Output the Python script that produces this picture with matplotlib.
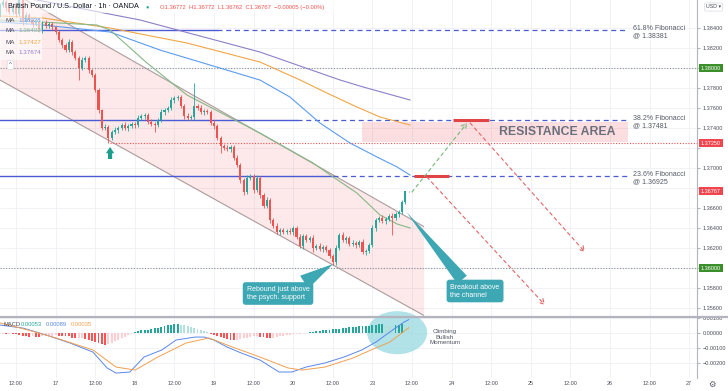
import numpy as np
import matplotlib
matplotlib.use('Agg')
import matplotlib.pyplot as plt
from matplotlib.patches import Ellipse, Rectangle
from matplotlib.lines import Line2D
from matplotlib.ticker import FuncFormatter
from matplotlib.transforms import blended_transform_factory

plt.rcParams['font.family'] = ['Liberation Sans', 'DejaVu Sans']

# x axis = hours since the 16th 12:00 (weekend gap removed, like the broker chart)
first_hour = -5
first_open = 1.38530

# hourly closes, GBP/USD
closes = [
    1.38630, 1.38660, 1.38600, 1.38560, 1.38620, 1.38540, 1.38680, 1.38460, 1.38530, 1.38480,
    1.38440, 1.38460, 1.38380, 1.38450, 1.38420, 1.38440, 1.38410, 1.38360, 1.38280, 1.38230,
    1.38180, 1.38260, 1.38160, 1.38100, 1.38000, 1.38080, 1.38100, 1.37980, 1.37930, 1.37780,
    1.37580, 1.37400, 1.37410, 1.37300, 1.37360, 1.37380, 1.37400, 1.37430, 1.37400, 1.37420,
    1.37440, 1.37430, 1.37500, 1.37520, 1.37530, 1.37460, 1.37440, 1.37430, 1.37480, 1.37560,
    1.37580, 1.37600, 1.37680, 1.37700, 1.37710, 1.37620, 1.37520, 1.37500, 1.37510, 1.37620,
    1.37600, 1.37560, 1.37570, 1.37560, 1.37450, 1.37420, 1.37300, 1.37220, 1.37200, 1.37190,
    1.37210, 1.37100, 1.37030, 1.36880, 1.36760, 1.36900, 1.36920, 1.36780, 1.36900, 1.36730,
    1.36620, 1.36680, 1.36480, 1.36420, 1.36360, 1.36380, 1.36360, 1.36370, 1.36360, 1.36400,
    1.36310, 1.36220, 1.36320, 1.36280, 1.36300, 1.36200, 1.36220, 1.36190, 1.36210, 1.36180,
    1.36120, 1.36060, 1.36200, 1.36330, 1.36280, 1.36300, 1.36240, 1.36250, 1.36230, 1.36260,
    1.36160, 1.36170, 1.36230, 1.36400, 1.36480, 1.36500, 1.36470, 1.36490, 1.36520, 1.36500,
    1.36540, 1.36560, 1.36660, 1.36772, 1.36767,
]
# wick lengths beyond the body, in pips
wick_up = [
    2, 3, 2, 1, 3, 2, 1, 2, 3, 2,
    2, 3, 2, 2, 3, 2, 2, 1, 2, 2,
    2, 3, 2, 2, 2, 3, 2, 2, 1, 2,
    2, 1, 3, 2, 2, 3, 2, 2, 3, 2,
    2, 2, 3, 2, 2, 2, 3, 2, 2, 3,
    2, 2, 3, 2, 2, 2, 2, 3, 2, 23,
    2, 3, 2, 2, 2, 3, 2, 2, 2, 3,
    2, 2, 3, 2, 2, 3, 2, 2, 3, 2,
    2, 3, 2, 2, 3, 2, 2, 2, 3, 2,
    2, 3, 2, 2, 2, 3, 2, 3, 2, 2,
    2, 2, 3, 2, 3, 2, 2, 3, 2, 2,
    3, 2, 2, 3, 2, 2, 3, 2, 2, 3,
    2, 2, 2, 0, 0,
]
wick_dn = [
    2, 2, 3, 2, 2, 3, 2, 3, 2, 2,
    3, 2, 2, 3, 2, 2, 3, 2, 2, 3,
    2, 2, 3, 2, 12, 2, 2, 3, 2, 2,
    3, 2, 2, 5, 2, 2, 3, 2, 2, 3,
    2, 3, 2, 2, 3, 2, 2, 7, 2, 2,
    3, 2, 2, 3, 2, 2, 3, 2, 2, 3,
    2, 2, 3, 2, 2, 3, 2, 7, 2, 2,
    3, 2, 2, 3, 3, 2, 2, 3, 2, 3,
    2, 2, 3, 2, 2, 3, 2, 2, 2, 3,
    2, 2, 3, 2, 2, 4, 2, 2, 3, 2,
    2, 3, 3, 2, 2, 3, 2, 2, 3, 2,
    2, 3, 2, 2, 3, 2, 2, 3, 2, 17,
    2, 3, 2, 2, 0.5,
]

# MACD histogram, units of 0.00001
hist = [
    -5, -5, -6, -6, -7, -8,
    -15, -18, -22, -24, -22, -24, -25, -22,
    -20, -18, -17, -16, -17, -18, -20, -22,
    -30, -33, -31, -30,
    -38, -45, -52, -60, -68, -75, -80,
    -74, -65, -55, -45, -35, -25, -15, -7,
    8, 14, 18, 20, 22,
    26, 31, 36, 41, 46, 51, 55, 58, 60,
    56, 51, 46, 40, 34, 27, 20, 12, 5,
    -6, -13, -20, -27, -34, -39, -44, -47, -45,
    -40, -35, -30, -26, -22, -20,
    -24, -28, -31, -33, -30, -26,
    -21, -17, -13, -10, -8, -6, -4, -2,
    3, 6, 10, 13, 16, 18,
    20, 22, 25, 28, 30, 33, 35, 38, 40, 42, 45, 47, 48, 50,
    52, 55, 57, 58, 56, 54, 52, 53, 55, 57, 56, 53,
]
macd_h = [-4.8, 2.1, 9.1, 16.4, 23.3, 27.6, 30.3, 34.5, 38.8, 44.2, 48.5, 54.2, 57, 60,
          63.9, 68.2, 73.9, 79.7, 83.6, 87.9, 93.6, 99.4, 104.8, 109.1, 113.3, 117.6, 119]
macd_v = [0.00053, 0.00033, -0.00013, -0.00067, -0.00127, -0.00233, -0.00267, -0.00260,
          -0.00160, -0.00113, -0.00047, -0.00027, -0.00027, -0.00047, -0.00093, -0.00133,
          -0.00180, -0.00260, -0.00260, -0.00227, -0.00200, -0.00160, -0.00113, -0.00060,
          0.00007, 0.00073, 0.00089]
signal_h = [-4.8, 3.6, 12.1, 23.3, 30.3, 36.1, 43, 51.5, 58.5, 65.5, 73.9, 82.4, 86.7,
            93.6, 102.1, 107.6, 113.3, 119]
signal_v = [0.00067, 0.00020, -0.00033, -0.00113, -0.00227, -0.00247, -0.00160, -0.00067,
            -0.00033, -0.00093, -0.00160, -0.00233, -0.00247, -0.00227, -0.00167, -0.00113,
            -0.00060, 0.00035]

# moving averages
ma_green_h = [-4.8, 7.3, 24.5, 28.5, 39.7, 51.8, 73.9, 90, 96.1, 103.3, 110.3, 115.5, 119.4]
ma_green_p = [1.3848, 1.3846, 1.3843, 1.3838, 1.3805, 1.3773, 1.3735, 1.3705, 1.3691,
              1.3675, 1.3653, 1.3644, 1.3640]
ma_blue_h = [-4.8, 8.2, 28.5, 43.6, 73.9, 83, 92.1, 101.2, 109.4, 115.5, 119.4]
ma_blue_p = [1.3846, 1.3843, 1.3836, 1.3818, 1.3788, 1.3771, 1.3745, 1.3725, 1.3711,
             1.3701, 1.3693]
ma_orange_h = [-4.8, 8.2, 28.5, 51.8, 73.9, 86.1, 94.2, 103.3, 110.3, 119.4]
ma_orange_p = [1.3852, 1.3850, 1.3840, 1.3825, 1.3806, 1.3788, 1.3775, 1.3761, 1.3751, 1.3743]
ma_purple_h = [-4.8, 6.4, 37.6, 73.9, 98.2, 105.2, 119.4]
ma_purple_p = [1.3873, 1.3868, 1.3848, 1.3816, 1.3788, 1.3781, 1.3768]
ma_values = ['1.36928', '1.36402', '1.37427', '1.37674']
ma_colors = ['#5b9cf0', '#86b886', '#f0a646', '#8e7fc8']

# descending channel
chan_h = [-4.85, 123.5]
chan_upper = [1.38828, 1.36416]
chan_lower = [1.37880, 1.35527]

fib_names = ['61.8%', '38.2%', '23.6%']
fib_levels = [1.38381, 1.37481, 1.36925]
fib_solid_end = [61, 85.2, 96]
fib_dash_end = 185.5

resist_h = [104.8, 185.5]
resist_p = [1.37265, 1.37465]
support_levels = [1.38000, 1.36000]
swing_low_h, swing_low = 28.5, 1.37250
last_price = 1.36767

tick_hours = list(range(0, 205, 12))
tick_labels = ['12:00', '17', '12:00', '18', '12:00', '19', '12:00', '20', '12:00',
               '23', '12:00', '24', '12:00', '25', '12:00', '26', '12:00', '27']

W, H = 728, 391
fig = plt.figure(figsize=(W / 100, H / 100), dpi=100)
ax = fig.add_axes([0, 1 - 316 / H, 697 / W, 316 / H])
axm = fig.add_axes([0, 1 - 378 / H, 697 / W, 60 / H], sharex=ax)

xmin, xmax = -4.85, 206.36
ax.set_xlim(xmin, xmax)
ax.set_ylim(1.3552, 1.3868)
axm.set_ylim(-0.003, 0.001)

grid_c = '#eef0f5'
for a in (ax, axm):
    a.set_axisbelow(True)
    a.grid(True, color=grid_c, lw=0.6)
    for s in a.spines.values():
        s.set_visible(False)
    a.yaxis.tick_right()
    a.tick_params(axis='y', length=2, color='#b2b5be', labelsize=4, labelcolor='#4a4e59', pad=2)

ax.set_xticks(tick_hours)
ax.tick_params(axis='x', length=0, labelbottom=False)
axm.set_xticks(tick_hours)
axm.set_xticklabels(tick_labels)
axm.tick_params(axis='x', length=0, labelsize=4, labelcolor='#4a4e59', pad=2.5)

tagged = support_levels + [1.372, 1.368]


def price_fmt(v, p):
    # ticks sitting under a coloured axis tag are hidden, as on the original
    if any(abs(v - t) < 1e-6 for t in tagged):
        return ''
    return f'{v:.5f}'


ax.set_yticks(np.arange(1.356, 1.3841, 0.002))
ax.yaxis.set_major_formatter(FuncFormatter(price_fmt))
axm.set_yticks([0.001, 0.0, -0.001, -0.002])
axm.yaxis.set_major_formatter(FuncFormatter(lambda v, p: f'{v:.5f}'.replace('-', '\u2212')))

# channel
ax.fill_between(chan_h, chan_lower, chan_upper, color='#f23645', alpha=0.11, lw=0, zorder=1)
ax.plot(chan_h, chan_upper, color='#ad9c9c', lw=0.8, zorder=2)
ax.plot(chan_h, chan_lower, color='#ad9c9c', lw=0.8, zorder=2)

# resistance area
ax.add_patch(Rectangle((resist_h[0], resist_p[0]), resist_h[1] - resist_h[0],
                       resist_p[1] - resist_p[0], fc='#f23645', alpha=0.16, lw=0, zorder=1))
ax.text(sum(resist_h) / 2 + 19, sum(resist_p) / 2, 'RESISTANCE AREA', fontsize=8.8,
        fontweight='bold', color='#6b6f7a', ha='center', va='center', zorder=3)

# horizontal levels
for lvl in support_levels:
    ax.axhline(lvl, color='#8a8f99', lw=0.8, ls=(0, (1, 1.5)), zorder=2)
ax.plot([swing_low_h, xmax], [swing_low] * 2, color='#ef5350', lw=0.8, ls=(0, (1, 1.5)), zorder=2)

fib_c = '#4a5bd4'
for name, lvl, s_end in zip(fib_names, fib_levels, fib_solid_end):
    ax.plot([xmin, s_end], [lvl, lvl], color=fib_c, lw=1.0, zorder=2)
    ax.plot([s_end, fib_dash_end], [lvl, lvl], color=fib_c, lw=0.9, ls=(0, (4, 3)), zorder=2)
    ax.text(187, lvl + 0.00045, f'{name} Fibonacci\n@ {lvl:.5f}', fontsize=5, color='#555a66',
            ha='left', va='top', linespacing=1.05, zorder=3)

# moving averages
for hh, pp, c in [(ma_purple_h, ma_purple_p, ma_colors[3]), (ma_orange_h, ma_orange_p, ma_colors[2]),
                  (ma_blue_h, ma_blue_p, ma_colors[0]), (ma_green_h, ma_green_p, ma_colors[1])]:
    ax.plot(hh, pp, color=c, lw=0.8, zorder=3)

# candles
x = np.arange(len(closes)) + first_hour
c_arr = np.array(closes)
o_arr = np.r_[first_open, c_arr[:-1]]
top = np.maximum(o_arr, c_arr)
bot = np.minimum(o_arr, c_arr)
highs = top + np.array(wick_up) * 1e-4
lows = bot - np.array(wick_dn) * 1e-4
col = np.where(c_arr >= o_arr, '#26a69a', '#ef5350')
ax.vlines(x, lows, highs, colors=col, lw=0.6, zorder=4)
ax.bar(x, np.maximum(top - bot, 0.00003), bottom=bot, width=0.62, color=col, lw=0, zorder=5)

# target bars and projected paths
ax.plot([120.6, 131.2], [fib_levels[2]] * 2, color='#e04444', lw=2.2, solid_capstyle='butt', zorder=6)
ax.plot([132.4, 143.3], [fib_levels[1]] * 2, color='#e04444', lw=2.2, solid_capstyle='butt', zorder=6)
paths = [((120, 1.3676), (136.7, 1.3745), '#76b876'),
         ((124.5, 1.3691), (160.3, 1.3563), '#e06666'),
         ((137.6, 1.3745), (172.4, 1.3616), '#e06666')]
for start, end, c in paths:
    ax.annotate('', xy=end, xytext=start, zorder=6,
                arrowprops=dict(arrowstyle='->,head_length=0.35,head_width=0.2', color=c,
                                lw=0.8, linestyle=(0, (3, 3)), shrinkA=0, shrinkB=0))

# green up arrow under swing low
ax.annotate('', xy=(swing_low_h, 1.3721), xytext=(swing_low_h, 1.3709), zorder=6,
            arrowprops=dict(arrowstyle='simple,head_length=0.45,head_width=0.6,tail_width=0.3',
                            color='#1b9e8b', lw=0, shrinkA=0, shrinkB=0))

# callouts
teal = '#3ea7b4'
ax.annotate('Rebound just above\nthe psych. support', xy=(96.1, 1.3604), xytext=(79.4, 1.35745),
            ha='center', va='center', fontsize=5, color='white', multialignment='left', zorder=8,
            bbox=dict(boxstyle='round,pad=0.55,rounding_size=0.4', fc=teal, ec='none'),
            arrowprops=dict(arrowstyle='wedge,tail_width=1.1,shrink_factor=0.5', fc=teal, ec='none',
                            mutation_scale=10, relpos=(0.82, 1.0), shrinkA=0, shrinkB=0))
ax.annotate('Breakout above\nthe channel', xy=(118.3, 1.3656), xytext=(139.1, 1.3577),
            ha='center', va='center', fontsize=5, color='white', multialignment='left', zorder=8,
            bbox=dict(boxstyle='round,pad=0.55,rounding_size=0.4', fc=teal, ec='none'),
            arrowprops=dict(arrowstyle='wedge,tail_width=0.9,shrink_factor=0.5', fc=teal, ec='none',
                            mutation_scale=10, relpos=(0.3, 1.0), shrinkA=0, shrinkB=0))


# price axis labels
def axis_tag(a, y, text, color):
    tr = blended_transform_factory(a.transAxes, a.transData)
    a.text(1 + 4 / 697, y, text, transform=tr, ha='left', va='center', fontsize=4, color='white',
           clip_on=False, zorder=20,
           bbox=dict(boxstyle='square,pad=0.3', fc=color, ec='none'))


axis_tag(ax, support_levels[0], f'{support_levels[0]:.5f}', '#3b8f2a')
axis_tag(ax, support_levels[1], f'{support_levels[1]:.5f}', '#3b8f2a')
axis_tag(ax, swing_low, f'{swing_low:.5f}', '#f0454f')
axis_tag(ax, last_price, f'{last_price:.5f}', '#f0454f')

# MACD pane
hist_v = np.array(hist) * 1e-5
hcol = []
for i, v in enumerate(hist_v):
    prev = hist_v[i - 1] if i else v
    if v >= 0:
        hcol.append('#26a69a' if v >= prev else '#b2dfdb')
    else:
        hcol.append('#ff5252' if v < prev else '#ffcdd2')
axm.add_patch(Ellipse((115.5, 0.00002), 18.2, 0.00287, fc='#9edbe3', alpha=0.8, lw=0,
                      zorder=1, clip_on=False))
axm.bar(x, hist_v, width=0.6, color=hcol, lw=0, zorder=2)
axm.plot(macd_h, macd_v, color='#5a87e8', lw=0.7, zorder=3)
axm.plot(signal_h, signal_v, color='#f0a050', lw=0.7, zorder=3)
axm.text(130, -0.00027, 'Climbing\nBullish\nMomentum', fontsize=4.5, color='#505560',
         ha='center', va='center', linespacing=1.1)

# frame lines
fig.add_artist(Line2D([0, 1], [1 - 317 / H] * 2, transform=fig.transFigure, color='#b2b5be', lw=1.6))
fig.add_artist(Line2D([697 / W] * 2, [1 - 378 / H, 1], transform=fig.transFigure, color='#b2b5be', lw=0.8))


def px_text(xp, yp, s, **kw):
    fig.text(xp / W, 1 - yp / H, s, va='center', **kw)


# legend overlays
fig.add_artist(Rectangle((0, 1 - 13 / H), 335 / W, 13 / H, transform=fig.transFigure,
                         fc='white', alpha=0.6, lw=0))
fig.add_artist(Rectangle((0, 1 - 60 / H), 42 / W, 47 / H, transform=fig.transFigure,
                         fc='white', alpha=0.6, lw=0))
px_text(8, 7, 'British Pound / U.S. Dollar \u00b7 1h \u00b7 OANDA', fontsize=5.2, color='#131722')
px_text(145, 7, '\u25cf', fontsize=4, color='#26a69a')
px_text(160, 7, 'O1.36772  H1.36772  L1.36762  C1.36767  \u22120.00005 (\u22120.00%)',
        fontsize=4.2, color='#ef5350')
for i, (val, c) in enumerate(zip(ma_values, ma_colors)):
    px_text(5, 20 + 11 * i, 'MA', fontsize=4.5, color='#4a4e59')
    px_text(18, 20 + 11 * i, val, fontsize=4.5, color=c)
px_text(9, 65, '^', fontsize=4.5, color='#4a4e59',
        bbox=dict(boxstyle='round,pad=0.3', fc='white', ec='#d6d9e0', lw=0.5))
px_text(3, 324, 'MACD', fontsize=4.2, color='#4a4e59')
px_text(21, 324, '0.00053', fontsize=4.2, color='#26a69a')
px_text(46, 324, '0.00089', fontsize=4.2, color='#5a87e8')
px_text(71, 324, '0.00035', fontsize=4.2, color='#f0a050')
px_text(706, 7, 'USD \u25be', fontsize=3.8, color='#4a4e59',
        bbox=dict(boxstyle='round,pad=0.3', fc='white', ec='#d6d9e0', lw=0.5))
px_text(708, 385, '\u2699', fontsize=6, color='#555a66')

fig.savefig('out.png', dpi=100)
